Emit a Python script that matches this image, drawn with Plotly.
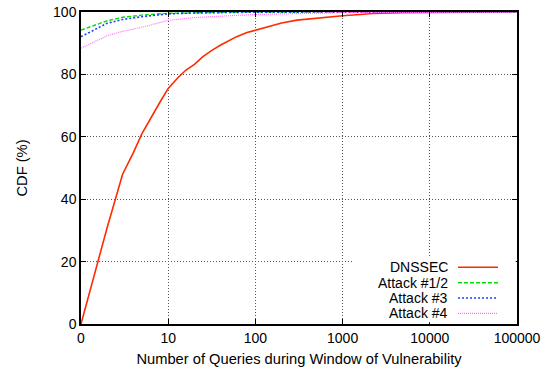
import plotly.graph_objects as go

# x positions are (queries + 1) on a log axis; tick "0" sits at 1
tick_vals = [1, 10, 100, 1000, 10000, 100000]
tick_text = ["0", "10", "100", "1000", "10000", "100000"]

dnssec_x = [1, 2, 3, 4, 5, 6, 7, 8, 10, 13, 16, 20, 25, 32, 40, 50, 61, 80, 100,
            150, 200, 300, 550, 1000, 1600, 2200, 5000, 10000, 100000]
dnssec_y = [0, 31, 48, 55, 61, 65, 68.5, 71, 75.5, 79, 81.4, 83.2, 85.7, 87.8, 89.4,
            90.8, 92.1, 93.4, 94.2, 95.6, 96.5, 97.4, 98.2, 98.8, 99.2, 99.5, 99.8, 99.9, 100]

atk_x = [1, 2, 3, 5, 10, 20, 50, 100, 1000, 100000]
atk12_y = [94.2, 97.2, 98.3, 99.0, 99.6, 99.8, 99.9, 100, 100, 100]
atk3_y = [92.1, 96.4, 97.6, 98.5, 99.4, 99.7, 99.85, 99.95, 100, 100]
atk4_y = [88.4, 92.4, 93.8, 95.1, 97.3, 98.2, 98.8, 99.2, 99.8, 100]

series = [
    ("DNSSEC", dnssec_x, dnssec_y, "#ff2a00", "solid", 1.6),
    ("Attack #1/2", atk_x, atk12_y, "#00e000", "4px,2px", 1.4),
    ("Attack #3", atk_x, atk3_y, "#2040ff", "2px,2px", 1.6),
    ("Attack #4", atk_x, atk4_y, "#ff70ff", "1px,1px", 1.2),
]

fig = go.Figure()
for name, xs, ys, color, dash, w in series:
    fig.add_trace(go.Scatter(x=xs, y=ys, mode="lines", name=name,
                             line=dict(color=color, dash=dash, width=w),
                             showlegend=False))

font = "Liberation Sans, Arial, Helvetica, sans-serif"

# custom gnuplot-style legend: white box, right-aligned text, sample on right
fig.add_shape(type="rect", xref="paper", yref="paper", x0=0.622, x1=0.997,
              y0=0.006, y1=0.215, fillcolor="white", line=dict(width=0), layer="above")
row_px = [267.3, 282.7, 298.0, 313.3]
for (name, xs, ys, color, dash, w), py in zip(series, row_px):
    yp = (324 - py) / 312
    fig.add_annotation(xref="paper", yref="paper", x=(450 - 81) / 436, y=yp,
                       text=name, showarrow=False, xanchor="right", yanchor="middle",
                       font=dict(size=14, color="black", family=font))
    fig.add_shape(type="line", xref="paper", yref="paper",
                  x0=(458 - 81) / 436, x1=(498 - 81) / 436, y0=yp, y1=yp,
                  line=dict(color=color, dash=dash, width=w), layer="above")

axis_common = dict(
    showline=True, linecolor="black", linewidth=1.5, mirror="ticks",
    ticks="inside", ticklen=5, tickcolor="black", tickwidth=1,
    showgrid=True, gridcolor="#555555", griddash="1px,2px", gridwidth=1,
    zeroline=False, tickfont=dict(size=14, color="black", family=font),
    automargin=False,
)

fig.update_xaxes(type="log", range=[0, 5], tickvals=tick_vals, ticktext=tick_text,
                 title=dict(text="Number of Queries during Window of Vulnerability",
                            font=dict(size=14.7, color="black", family=font), standoff=9),
                 **axis_common)
fig.update_yaxes(range=[0, 100], tickvals=[0, 20, 40, 60, 80, 100],
                 title=dict(text="CDF (%)", font=dict(size=14.7, color="black", family=font),
                            standoff=22),
                 **axis_common)

fig.update_layout(
    width=558, height=373,
    margin=dict(l=81, r=41, t=12, b=49),
    paper_bgcolor="white", plot_bgcolor="white",
    font=dict(family=font, color="black"),
)

fig.write_html("out.html", config={"displayModeBar": False},
               post_script="document.body.style.margin='0';document.body.style.overflow='hidden';")
